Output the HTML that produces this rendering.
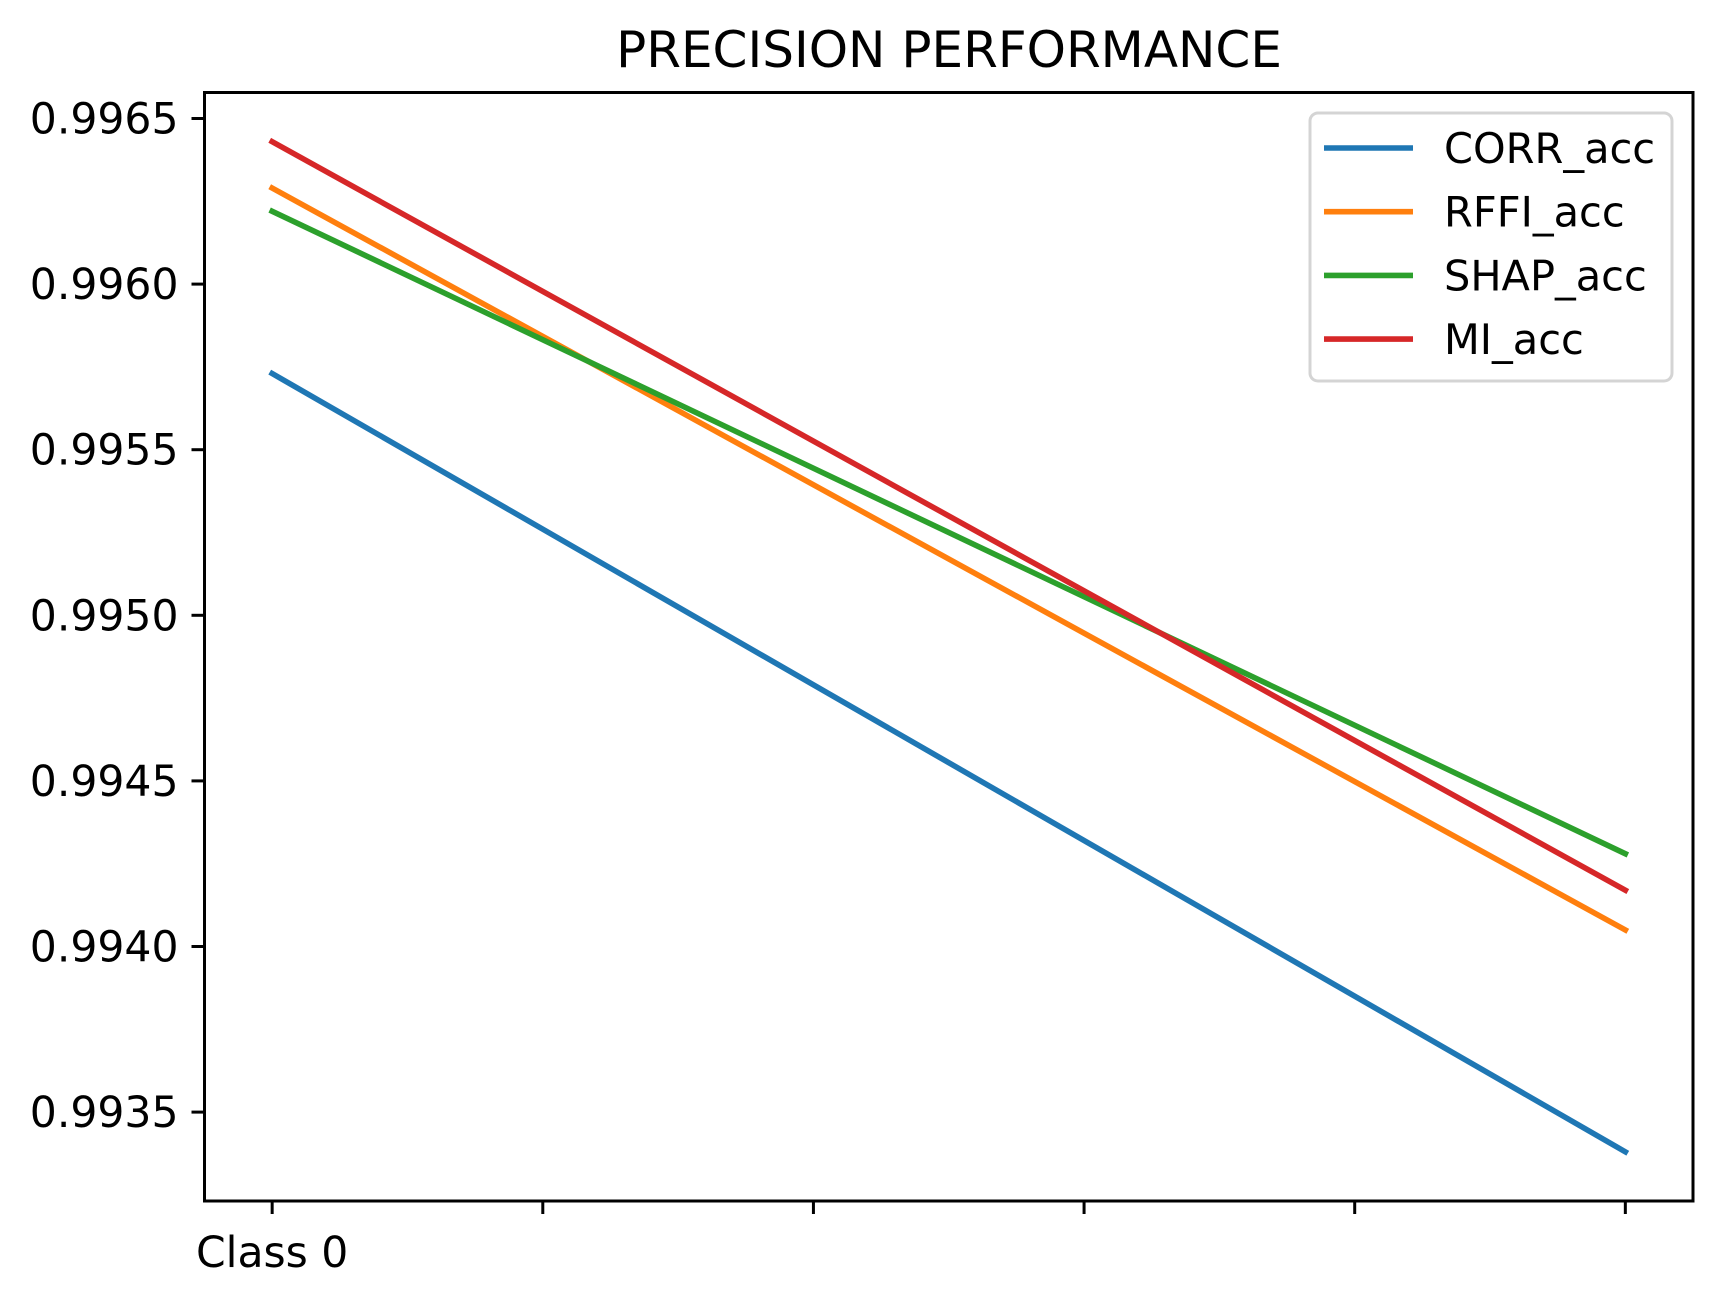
<!DOCTYPE html>
<html><head><meta charset="utf-8"><style>
html,body{margin:0;padding:0;background:#fff;}
svg{display:block;font-family:"DejaVu Sans","Liberation Sans",sans-serif;}
</style></head><body>
<svg id="chart" width="1722" height="1302" viewBox="0 0 1722 1302" xmlns="http://www.w3.org/2000/svg">
<rect width="1722" height="1302" fill="#fff"/>
<text x="949" y="67" font-size="50" text-anchor="middle">PRECISION PERFORMANCE</text>
<g id="plot"></g>
</svg>
<script>
const seriesNames = ["CORR_acc","RFFI_acc","SHAP_acc","MI_acc"];
const seriesColors = ["#1f77b4","#ff7f0e","#2ca02c","#d62728"];
const corrValues = [0.99573, 0.99338];
const rffiValues = [0.99629, 0.99405];
const shapValues = [0.99622, 0.99428];
const miValues = [0.99643, 0.99417];
const xValues = [0, 1];
const xTickValues = [0, 0.2, 0.4, 0.6, 0.8, 1.0];
const xTickLabels = ["Class 0", "", "", "", "", ""];
const yTickValues = [0.9935, 0.9940, 0.9945, 0.9950, 0.9955, 0.9960, 0.9965];
const yTickLabels = ["0.9935","0.9940","0.9945","0.9950","0.9955","0.9960","0.9965"];

const L=204.5,R=1693,T=92.5,B=1201;
const xMin=-0.05,xMax=1.05;
function xs(v){return L+(v-xMin)/(xMax-xMin)*(R-L);}
function ys(v){return 118.5+(0.9965-v)/0.0005*165.6;}
const NS="http://www.w3.org/2000/svg";
const g=document.getElementById('plot');
function mk(tag,attrs){const e=document.createElementNS(NS,tag);for(const k in attrs)e.setAttribute(k,attrs[k]);g.appendChild(e);return e;}

const all=[corrValues,rffiValues,shapValues,miValues];
all.forEach((vals,i)=>{
  const p=mk('polyline',{points:vals.map((v,j)=>xs(xValues[j])+','+ys(v)).join(' '),fill:'none',stroke:seriesColors[i],'stroke-width':5.6,'stroke-linecap':'square'});
  
  
});

const frame=mk('rect',{x:L,y:T,width:R-L,height:B-T,fill:'none',stroke:'#000','stroke-width':3});



yTickValues.forEach((v,i)=>{
  const y=ys(v);
  const t=mk('line',{x1:L-13,x2:L,y1:y,y2:y,stroke:'#000','stroke-width':3});
  
  
  const tx=mk('text',{x:L-26,y:y+15,'font-size':42.5,'text-anchor':'end'});
  tx.textContent=yTickLabels[i];
  
  
});
xTickValues.forEach((v,i)=>{
  const x=xs(v);
  const t=mk('line',{x1:x,x2:x,y1:B,y2:B+13,stroke:'#000','stroke-width':3});
  
  
  if(xTickLabels[i]){
    const tx=mk('text',{x:x,y:B+66,'font-size':42.5,'text-anchor':'middle'});
    tx.textContent=xTickLabels[i];
    
    
  }
});

const lg=mk('rect',{x:1310,y:113,width:362,height:268,rx:8,fill:'#fff','fill-opacity':0.8,stroke:'#d4d4d4','stroke-width':3});


seriesNames.forEach((n,i)=>{
  const y=148+i*63.7;
  const l=mk('line',{x1:1324,x2:1413,y1:y,y2:y,stroke:seriesColors[i],'stroke-width':5.6});
  
  
  const tx=mk('text',{x:1444,y:y+15,'font-size':41.5});
  tx.textContent=n;
  
  
});
</script>
</body></html>
